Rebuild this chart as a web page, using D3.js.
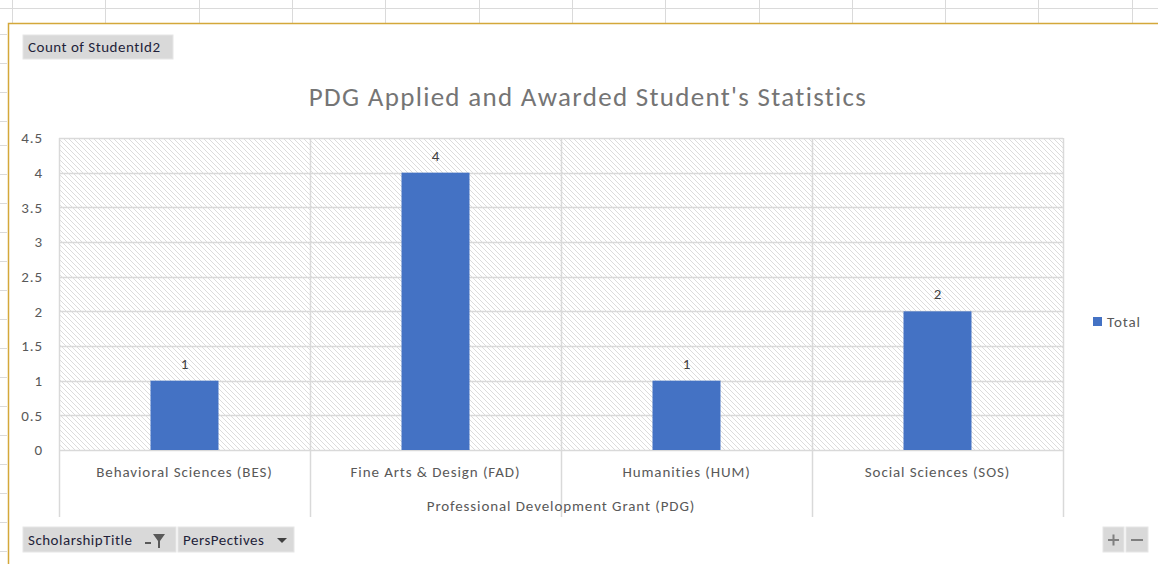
<!DOCTYPE html>
<html>
<head>
<meta charset="utf-8">
<script src="https://cdn.jsdelivr.net/npm/d3@7"></script>
<style>
  body { margin: 0; background: #fff; }
  svg { display: block; font-family: Carlito, Calibri, Lato, sans-serif; }
</style>
</head>
<body>
<svg id="chart" width="1158" height="564"></svg>
<script>
// data
var categories = ["Behavioral Sciences (BES)", "Fine Arts & Design (FAD)", "Humanities (HUM)", "Social Sciences (SOS)"];
var totals = [1, 4, 1, 2];
var yTicks = [0, 0.5, 1, 1.5, 2, 2.5, 3, 3.5, 4, 4.5];
var seriesName = "Total";
var axisTitle = "Professional Development Grant (PDG)";
var chartTitle = "PDG Applied and Awarded Student's Statistics";

var svg = d3.select("#chart");
var W = 1158, H = 564;
var plot = {left: 59, right: 1063, top: 138, bottom: 450};
var FS = 15, LS = "0.9px";

// spreadsheet cells behind the chart
var sheet = svg.append("g");
sheet.append("line").attr("x1", 0).attr("x2", W).attr("y1", 8.5).attr("y2", 8.5)
  .attr("stroke", "#dadada");
[12, 105, 199, 292, 385, 479, 572, 665, 759, 852, 945, 1038, 1132].forEach(function(x) {
  sheet.append("line").attr("x1", x + 0.5).attr("x2", x + 0.5).attr("y1", 0).attr("y2", 23)
    .attr("stroke", "#dadada");
});
[34, 63, 92, 121, 145, 174, 203, 232, 261, 290, 319, 348, 377, 406, 435, 464, 493, 522, 551].forEach(function(y) {
  sheet.append("line").attr("x1", 0).attr("x2", 7).attr("y1", y + 0.5).attr("y2", y + 0.5)
    .attr("stroke", "#dadada");
});
// chart border (selected)
svg.append("path").attr("d", "M8.5,564 L8.5,23.5 L1158,23.5")
  .attr("fill", "none").attr("stroke", "#d4a83a").attr("stroke-width", 1.5);

// hatch pattern
var defs = svg.append("defs");
var pat = defs.append("pattern").attr("id", "hatch").attr("patternUnits", "userSpaceOnUse")
  .attr("width", 5).attr("height", 5);
pat.append("rect").attr("width", 5).attr("height", 5).attr("fill", "#fff");
pat.append("path").attr("d", "M-1,-1 L6,6 M-1,4 L1,6 M4,-1 L6,1")
  .attr("stroke", "#dcdcdc").attr("stroke-width", 1);

var x = d3.scaleBand().domain(categories).range([plot.left, plot.right]).paddingInner(0).paddingOuter(0);
var y = d3.scaleLinear().domain([0, 4.5]).range([plot.bottom, plot.top]);

svg.append("rect").attr("x", plot.left).attr("y", plot.top)
  .attr("width", plot.right - plot.left).attr("height", plot.bottom - plot.top)
  .attr("fill", "url(#hatch)");

// horizontal gridlines
svg.append("g").selectAll("line").data(yTicks).join("line")
  .attr("x1", plot.left).attr("x2", plot.right)
  .attr("y1", function(d) { return Math.round(y(d)) + 0.5; })
  .attr("y2", function(d) { return Math.round(y(d)) + 0.5; })
  .attr("stroke", "#d9d9d9").attr("stroke-width", 1.5);

// category separators, extending down through the label area
var seps = categories.map(function(c) { return x(c); }).concat([plot.right]);
svg.append("g").selectAll("line").data(seps).join("line")
  .attr("x1", function(d) { return Math.round(d) + 0.5; })
  .attr("x2", function(d) { return Math.round(d) + 0.5; })
  .attr("y1", plot.top).attr("y2", 517)
  .attr("stroke", "#d9d9d9").attr("stroke-width", 1.5);

// y axis
var yAxis = d3.axisLeft(y).tickValues(yTicks).tickSize(0).tickPadding(16)
  .tickFormat(function(d) { return String(d); });
var ya = svg.append("g").attr("transform", "translate(" + plot.left + ",0)").call(yAxis);
ya.select(".domain").remove();
ya.selectAll("text").attr("fill", "#595959").attr("font-size", FS).attr("letter-spacing", LS)
  .attr("font-family", "Carlito, Calibri, Lato, sans-serif");

// bars
var barW = 68;
svg.append("g").selectAll("rect").data(totals).join("rect")
  .attr("x", function(d, i) { return x(categories[i]) + x.bandwidth() / 2 - barW / 2; })
  .attr("y", function(d) { return y(d); })
  .attr("width", barW)
  .attr("height", function(d) { return y(0) - y(d); })
  .attr("fill", "#4472c4");

// data labels
svg.append("g").selectAll("text").data(totals).join("text")
  .attr("x", function(d, i) { return x(categories[i]) + x.bandwidth() / 2; })
  .attr("y", function(d) { return y(d) - 12; })
  .attr("text-anchor", "middle").attr("fill", "#404040").attr("font-size", FS)
  .text(function(d) { return d; });

// category labels
svg.append("g").selectAll("text").data(categories).join("text")
  .attr("x", function(d) { return x(d) + x.bandwidth() / 2; })
  .attr("y", 477)
  .attr("text-anchor", "middle").attr("fill", "#595959").attr("font-size", FS).attr("letter-spacing", LS)
  .text(function(d) { return d; });

svg.append("text").attr("x", (plot.left + plot.right) / 2).attr("y", 511)
  .attr("text-anchor", "middle").attr("fill", "#595959").attr("font-size", FS).attr("letter-spacing", LS)
  .text(axisTitle);

// title
svg.append("text").attr("x", 588).attr("y", 106)
  .attr("text-anchor", "middle").attr("fill", "#757575").attr("font-size", 27).attr("letter-spacing", "1.3px")
  .text(chartTitle);

// legend
svg.append("rect").attr("x", 1093).attr("y", 317).attr("width", 9).attr("height", 9).attr("fill", "#4472c4");
svg.append("text").attr("x", 1107).attr("y", 327).attr("fill", "#595959").attr("font-size", FS)
  .attr("letter-spacing", LS).text(seriesName);

// pivot field buttons
function button(x0, y0, w, h, label) {
  var g = svg.append("g");
  g.append("rect").attr("x", x0).attr("y", y0).attr("width", w).attr("height", h)
    .attr("fill", "#d9d9d9").attr("stroke", "#e6e6e6");
  if (label) g.append("text").attr("x", x0 + 5).attr("y", y0 + h / 2 + 5)
    .attr("fill", "#1f1f3a").attr("font-size", FS).attr("letter-spacing", "0.5px").text(label);
  return g;
}
button(23, 35, 150, 24, "Count of StudentId2");
var b1 = button(23, 527, 153, 25, "ScholarshipTitle");
b1.append("path").attr("d", "M145,542 L151,542 L151,544 L145,544 Z M153,534 L165,534 L160,541 L160,548 L158,548 L158,541 Z")
  .attr("fill", "#595959");
var b2 = button(178, 527, 116, 25, "PersPectives");
b2.append("path").attr("d", "M277,538 L287,538 L282,543 Z").attr("fill", "#404040");
var bp = button(1103, 527, 21, 25, null);
bp.append("path").attr("d", "M1108,540 L1119,540 M1113.5,534.5 L1113.5,545.5").attr("stroke", "#7f7f7f").attr("stroke-width", 2);
var bm = button(1126, 527, 22, 25, null);
bm.append("path").attr("d", "M1131,540 L1143,540").attr("stroke", "#7f7f7f").attr("stroke-width", 2);
</script>
</body>
</html>
